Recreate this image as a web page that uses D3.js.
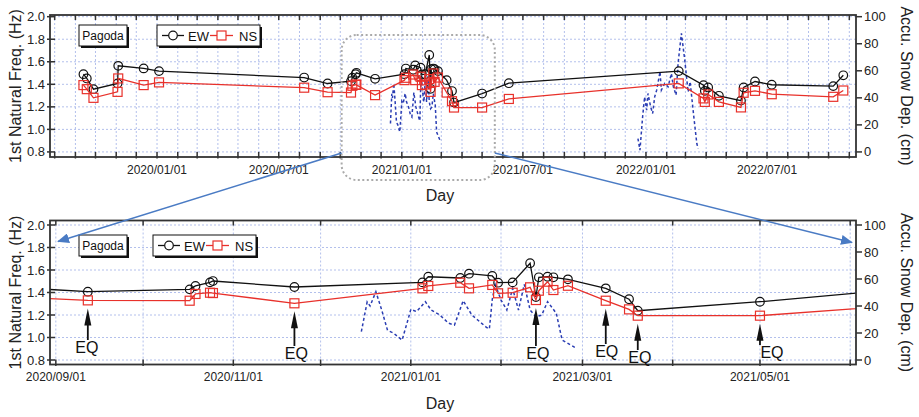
<!DOCTYPE html>
<html lang="en">
<head>
<meta charset="UTF-8">
<title>Pagoda - 1st natural frequency and snow depth</title>
<script src="https://cdn.jsdelivr.net/npm/d3@7"></script>
<style>
  body { margin: 0; background: #fff; }
  svg { font-family: "Liberation Sans", Arial, sans-serif; }
</style>
</head>
<body>
<svg id="chart" width="919" height="417"></svg>
<script>
// ---------- data ----------
const siteName = "Pagoda";
const seriesNames = ["EW", "NS"];

const measureDates = [
  "2019-09-13", "2019-09-18", "2019-09-28", "2019-11-03", "2019-11-04", "2019-12-12", "2020-01-04",
  "2020-08-08", "2020-09-12", "2020-10-17", "2020-10-19", "2020-10-24", "2020-10-25", "2020-11-22",
  "2021-01-05", "2021-01-07", "2021-01-18", "2021-01-21", "2021-01-29", "2021-01-31", "2021-02-05",
  "2021-02-11", "2021-02-13", "2021-02-14", "2021-02-17", "2021-02-19", "2021-02-24", "2021-03-09",
  "2021-03-17", "2021-03-20", "2021-05-01", "2021-06-10", "2022-02-19", "2022-03-28", "2022-03-30",
  "2022-04-04", "2022-04-20", "2022-05-23", "2022-05-27", "2022-06-13", "2022-07-08", "2022-10-08",
  "2022-10-23"
];
const ewFreq = [
  1.49, 1.452, 1.357, 1.408, 1.564, 1.541, 1.517,
  1.46, 1.407, 1.428, 1.458, 1.49, 1.502, 1.449,
  1.49, 1.54, 1.529, 1.567, 1.547, 1.487, 1.49,
  1.66, 1.36, 1.535, 1.54, 1.535, 1.517, 1.437,
  1.34, 1.238, 1.318, 1.41, 1.517, 1.393, 1.342,
  1.372, 1.298, 1.255, 1.372, 1.425, 1.396, 1.384,
  1.48
];
const nsFreq = [
  1.393, 1.357, 1.28, 1.333, 1.452, 1.393, 1.417,
  1.37, 1.33, 1.327, 1.387, 1.398, 1.395, 1.304,
  1.437, 1.458, 1.487, 1.437, 1.467, 1.393, 1.398,
  1.446, 1.333, 1.416, 1.496, 1.422, 1.46, 1.327,
  1.25, 1.194, 1.194, 1.27, 1.408, 1.275, 1.244,
  1.31, 1.244, 1.195, 1.325, 1.342, 1.312, 1.289,
  1.345
];

// accumulated snow depth (cm), winter 2020-21
const snowDatesA = [
  "2020-12-15", "2020-12-17", "2020-12-18", "2020-12-20", "2020-12-22", "2020-12-24", "2020-12-26",
  "2020-12-29", "2020-12-31", "2021-01-01", "2021-01-03", "2021-01-06", "2021-01-08", "2021-01-11",
  "2021-01-14", "2021-01-16", "2021-01-19", "2021-01-22", "2021-01-24", "2021-01-27", "2021-01-28",
  "2021-01-29", "2021-01-30", "2021-02-01", "2021-02-03", "2021-02-05", "2021-02-07", "2021-02-09",
  "2021-02-11", "2021-02-13", "2021-02-15", "2021-02-17", "2021-02-20", "2021-02-22", "2021-02-24",
  "2021-02-27"
];
const snowDepthA = [
  21, 43, 40, 50.6, 37, 22, 20,
  14.8, 29.6, 37.5, 35.8, 43.2, 37, 33.3,
  27.2, 25.9, 43.9, 33.3, 29.6, 24.2, 23,
  45, 56, 44.4, 37, 53, 37, 56,
  37, 32, 33.3, 43.2, 34.6, 14.8, 12.3,
  8.6
];
// winter 2021-22
const snowDatesB = [
  "2021-12-20", "2021-12-23", "2021-12-27", "2021-12-30", "2022-01-02", "2022-01-04", "2022-01-08",
  "2022-01-11", "2022-01-14", "2022-01-17", "2022-01-22", "2022-01-24", "2022-01-29", "2022-02-03",
  "2022-02-08", "2022-02-11", "2022-02-15", "2022-02-18", "2022-02-23", "2022-02-28", "2022-03-05",
  "2022-03-08", "2022-03-13", "2022-03-18", "2022-03-20"
];
const snowDepthB = [
  9.9, 1.3, 26, 40.7, 30.9, 43.2, 33.3,
  28.4, 40.7, 45.7, 59.3, 45.7, 50.6, 48.1,
  58, 48.1, 42, 65.5, 87.7, 67.9, 44.4,
  51.9, 28.4, 6.2, 2.5
];

// earthquakes marked in the detail view
const eqDates = ["2020-09-12", "2020-11-22", "2021-02-13", "2021-03-09", "2021-03-20", "2021-05-01"];

const freqTicks = [0.8, 1.0, 1.2, 1.4, 1.6, 1.8, 2.0];
const snowTicks = [0, 20, 40, 60, 80, 100];
const overviewTicks = ["2020-01-01", "2020-07-01", "2021-01-01", "2021-07-01", "2022-01-01", "2022-07-01"];
const detailTicks = ["2020-09-01", "2020-11-01", "2021-01-01", "2021-03-01", "2021-05-01"];

// ---------- setup ----------
const parse = d3.timeParse("%Y-%m-%d");
const fmt = d3.timeFormat("%Y/%m/%d");

const meas = measureDates.map((d, i) => ({ date: parse(d), ew: ewFreq[i], ns: nsFreq[i] }));
const snowA = snowDatesA.map((d, i) => ({ date: parse(d), v: snowDepthA[i] }));
const snowB = snowDatesB.map((d, i) => ({ date: parse(d), v: snowDepthB[i] }));

const svg = d3.select("#chart");

const defs = svg.append("defs");
defs.append("marker")
  .attr("id", "blueHead")
  .attr("viewBox", "0 0 12 10")
  .attr("refX", 11).attr("refY", 5)
  .attr("markerWidth", 12).attr("markerHeight", 10)
  .attr("markerUnits", "userSpaceOnUse")
  .attr("orient", "auto")
  .append("path")
  .attr("d", "M0,0 L12,5 L0,10 Z")
  .attr("fill", "#4a7bc4");

const gridColor = "#b3c0ec";
const nsColor = "#e8312b";
const snowColor = "#2a3db3";
const frameColor = "#333";

function drawPanel(p) {
  const x = d3.scaleTime().domain(p.xDomain.map(parse)).range([p.left, p.right]);
  const y = d3.scaleLinear().domain(p.yDomain).range([p.bottom, p.top]);
  const ys = d3.scaleLinear().domain(p.yDomain.map(v => (v - 0.8) / 1.2 * 100)).range([p.bottom, p.top]);

  const g = svg.append("g");
  const clipId = "clip" + p.id;
  defs.append("clipPath").attr("id", clipId)
    .append("rect")
    .attr("x", p.left).attr("y", p.top)
    .attr("width", p.right - p.left).attr("height", p.bottom - p.top);

  // grid
  const months = d3.timeMonth.range(x.domain()[0], x.domain()[1]);
  g.append("g").selectAll("line").data(months).join("line")
    .attr("x1", d => x(d)).attr("x2", d => x(d))
    .attr("y1", p.top).attr("y2", p.bottom)
    .attr("stroke", gridColor).attr("stroke-width", 1).attr("stroke-dasharray", "2,2");
  g.append("g").selectAll("line").data(freqTicks).join("line")
    .attr("x1", p.left).attr("x2", p.right)
    .attr("y1", d => y(d)).attr("y2", d => y(d))
    .attr("stroke", gridColor).attr("stroke-width", 1).attr("stroke-dasharray", "2,2");

  const plot = g.append("g").attr("clip-path", `url(#${clipId})`);

  // snow depth
  const snowLine = d3.line().x(d => x(d.date)).y(d => ys(d.v));
  [snowA, snowB].forEach(s => {
    plot.append("path").datum(s)
      .attr("d", snowLine)
      .attr("fill", "none")
      .attr("stroke", snowColor).attr("stroke-width", 1.5)
      .attr("stroke-dasharray", "3,2.5");
  });

  // EW
  const ewLine = d3.line().x(d => x(d.date)).y(d => y(d.ew));
  plot.append("path").datum(meas)
    .attr("d", ewLine).attr("fill", "none")
    .attr("stroke", "#111").attr("stroke-width", 1.3);
  plot.append("g").selectAll("circle").data(meas).join("circle")
    .attr("cx", d => x(d.date)).attr("cy", d => y(d.ew)).attr("r", 4.3)
    .attr("fill", "none").attr("stroke", "#111").attr("stroke-width", 1.2);

  // NS
  const nsLine = d3.line().x(d => x(d.date)).y(d => y(d.ns));
  plot.append("path").datum(meas)
    .attr("d", nsLine).attr("fill", "none")
    .attr("stroke", nsColor).attr("stroke-width", 1.3);
  plot.append("g").selectAll("rect").data(meas).join("rect")
    .attr("x", d => x(d.date) - 4.5).attr("y", d => y(d.ns) - 4.5)
    .attr("width", 9).attr("height", 9)
    .attr("fill", "none").attr("stroke", nsColor).attr("stroke-width", 1.2);

  // frame
  g.append("rect")
    .attr("x", p.left).attr("y", p.top)
    .attr("width", p.right - p.left).attr("height", p.bottom - p.top)
    .attr("fill", "none").attr("stroke", frameColor).attr("stroke-width", 1.8);

  // monthly ticks top & bottom (inside)
  const tk = g.append("g").attr("stroke", frameColor).attr("stroke-width", 1.5);
  tk.selectAll(".tb").data(months).join("line")
    .attr("x1", d => x(d)).attr("x2", d => x(d))
    .attr("y1", p.bottom + 1.5).attr("y2", p.bottom - 5);
  tk.selectAll(".tt").data(months).join("line")
    .attr("x1", d => x(d)).attr("x2", d => x(d))
    .attr("y1", p.top).attr("y2", p.top + 5);
  // left ticks
  tk.selectAll(".tl").data(freqTicks).join("line")
    .attr("x1", p.left - 3).attr("x2", p.left + 5)
    .attr("y1", d => y(d)).attr("y2", d => y(d));
  // right ticks (snow)
  tk.selectAll(".tr").data(snowTicks).join("line")
    .attr("x1", p.right).attr("x2", p.right + 6)
    .attr("y1", d => ys(d)).attr("y2", d => ys(d));

  // tick labels
  g.append("g").selectAll("text").data(freqTicks).join("text")
    .attr("x", p.left - 5).attr("y", d => y(d) + 4.5)
    .attr("text-anchor", "end").attr("font-size", 13).attr("fill", "#222")
    .text(d => d.toFixed(1));
  g.append("g").selectAll("text").data(snowTicks).join("text")
    .attr("x", p.right + 8).attr("y", d => ys(d) + 4.5)
    .attr("font-size", 13).attr("fill", "#222")
    .text(d => d);
  g.append("g").selectAll("text").data(p.ticks.map(parse)).join("text")
    .attr("x", d => x(d)).attr("y", p.bottom + 16.5)
    .attr("text-anchor", "middle").attr("font-size", 12).attr("fill", "#222")
    .text(d => fmt(d));

  // axis titles
  const midY = (p.top + p.bottom) / 2;
  g.append("text")
    .attr("transform", `translate(21,${midY}) rotate(-90)`)
    .attr("text-anchor", "middle").attr("font-size", 16).attr("fill", "#222")
    .text("1st Natural Freq. (Hz)");
  g.append("text")
    .attr("transform", `translate(901,${midY}) rotate(90)`)
    .attr("text-anchor", "middle").attr("font-size", 16).attr("fill", "#222")
    .text("Accu. Snow Dep. (cm)");
  g.append("text")
    .attr("x", 440).attr("y", p.bottom + 44)
    .attr("text-anchor", "middle").attr("font-size", 16).attr("fill", "#222")
    .text("Day");

  // site box
  const ly = p.legendY;
  g.append("rect").attr("x", 81).attr("y", ly + 2).attr("width", 48).attr("height", 21).attr("fill", "#111");
  g.append("rect").attr("x", 79).attr("y", ly).attr("width", 48).attr("height", 21)
    .attr("fill", "#fff").attr("stroke", "#111").attr("stroke-width", 1);
  g.append("text").attr("x", 103).attr("y", ly + 15)
    .attr("text-anchor", "middle").attr("font-size", 12).attr("fill", "#111")
    .text(siteName);

  // series legend
  const lx = p.legendX;
  g.append("rect").attr("x", lx + 2).attr("y", ly + 2).attr("width", 103).attr("height", 21).attr("fill", "#111");
  g.append("rect").attr("x", lx).attr("y", ly).attr("width", 103).attr("height", 21)
    .attr("fill", "#fff").attr("stroke", "#111").attr("stroke-width", 1);
  const cy = ly + 10.5;
  g.append("line").attr("x1", lx + 5).attr("x2", lx + 27).attr("y1", cy).attr("y2", cy)
    .attr("stroke", "#111").attr("stroke-width", 1.3);
  g.append("circle").attr("cx", lx + 16).attr("cy", cy).attr("r", 4.3)
    .attr("fill", "#fff").attr("stroke", "#111").attr("stroke-width", 1.2);
  g.append("text").attr("x", lx + 31).attr("y", cy + 5).attr("font-size", 13).attr("fill", "#111").text(seriesNames[0]);
  g.append("line").attr("x1", lx + 53).attr("x2", lx + 76).attr("y1", cy).attr("y2", cy)
    .attr("stroke", nsColor).attr("stroke-width", 1.3);
  g.append("rect").attr("x", lx + 60).attr("y", cy - 4.5).attr("width", 9).attr("height", 9)
    .attr("fill", "#fff").attr("stroke", nsColor).attr("stroke-width", 1.2);
  g.append("text").attr("x", lx + 82).attr("y", cy + 5).attr("font-size", 13).attr("fill", "#111").text(seriesNames[1]);

  // earthquake arrows
  if (p.eq) {
    // small label nudges [dx, dy] so the labels sit as in the figure
    const nudge = [[-1, -5], [2, 1], [2, 1], [1, -1], [2, 5], [12, 0]];
    eqDates.forEach((ds, i) => {
      const d = parse(ds);
      const m = meas.find(e => +e.date === +d);
      const ax = x(d);
      const tip = y(m.ns) + 8;
      const base = 358 + nudge[i][1];
      g.append("line").attr("x1", ax).attr("x2", ax).attr("y1", tip + 10).attr("y2", base - 13)
        .attr("stroke", "#111").attr("stroke-width", 1.8);
      g.append("path")
        .attr("d", `M${ax},${tip} L${ax - 3.5},${tip + 17} L${ax + 3.5},${tip + 17} Z`)
        .attr("fill", "#111");
      g.append("text").attr("x", ax + nudge[i][0]).attr("y", base)
        .attr("text-anchor", "middle").attr("font-size", 16).attr("fill", "#111")
        .text("EQ");
    });
  }
  return { x, y };
}

const overview = drawPanel({
  id: "top", left: 50, right: 856, top: 15, bottom: 157,
  xDomain: ["2019-07-25", "2022-11-11"], yDomain: [0.755, 2.015],
  ticks: overviewTicks, legendY: 25, legendX: 157, eq: false
});
const detail = drawPanel({
  id: "bottom", left: 50, right: 856, top: 220.5, bottom: 364.5,
  xDomain: ["2020-08-30", "2021-06-03"], yDomain: [0.76, 2.04],
  ticks: detailTicks, legendY: 235, legendX: 153, eq: true
});

// zoom box on the overview and connector arrows
const bx0 = overview.x(parse("2020-10-03"));
const bx1 = overview.x(parse("2021-05-20"));
svg.append("rect")
  .attr("x", bx0).attr("y", 35).attr("width", bx1 - bx0).attr("height", 145)
  .attr("rx", 15).attr("ry", 15)
  .attr("fill", "none").attr("stroke", "#aaa").attr("stroke-width", 2)
  .attr("stroke-dasharray", "2,2.5");
svg.append("line")
  .attr("x1", bx0).attr("y1", 153).attr("x2", 58).attr("y2", 241.5)
  .attr("stroke", "#4a7bc4").attr("stroke-width", 1.5)
  .attr("marker-end", "url(#blueHead)");
svg.append("line")
  .attr("x1", bx1).attr("y1", 153).attr("x2", 852).attr("y2", 242.5)
  .attr("stroke", "#4a7bc4").attr("stroke-width", 1.5)
  .attr("marker-end", "url(#blueHead)");
</script>
</body>
</html>
